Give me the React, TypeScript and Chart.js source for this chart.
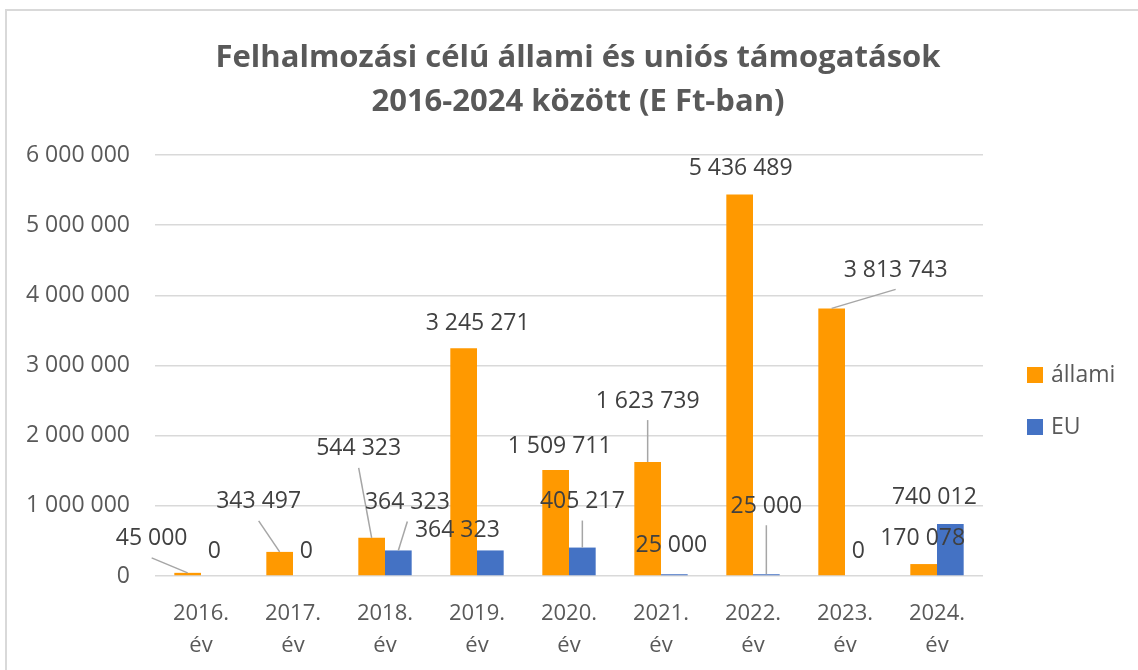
import React, { useEffect, useRef } from "react";
import { Chart, registerables } from "chart.js";

Chart.register(...registerables);

const titleLines = ["Felhalmozási célú állami és uniós támogatások", "2016-2024 között (E Ft-ban)"];
const categories = [
  ["2016.", "év"],
  ["2017.", "év"],
  ["2018.", "év"],
  ["2019.", "év"],
  ["2020.", "év"],
  ["2021.", "év"],
  ["2022.", "év"],
  ["2023.", "év"],
  ["2024.", "év"],
];
const seriesNames = ["állami", "EU"];
const allamiValues = [45000, 343497, 544323, 3245271, 1509711, 1623739, 5436489, 3813743, 170078];
const euValues = [0, 0, 364323, 364323, 405217, 25000, 25000, 0, 740012];
const yMin = 0;
const yMax = 6000000;
const yStep = 1000000;

// label placement (dx, dy from bar top centre, leader line?)
const allamiLabelOffsets: [number, number, boolean][] = [
  [-36, -34, true],
  [-21, -50, true],
  [-13, -89, true],
  [14, -25, false],
  [4, -24, false],
  [0, -61, true],
  [1, -26, false],
  [64, -38, true],
  [-1, -26, false],
];
const euLabelOffsets: [number, number, boolean][] = [
  [0, -25, false],
  [0, -25, false],
  [9, -48, true],
  [-33, -20, false],
  [0, -46, true],
  [-3, -29, false],
  [0, -68, true],
  [0, -25, false],
  [-16, -27, false],
];

const ORANGE = "#FF9900";
const BLUE = "#4472C4";
const TEXT = "#595959";
const LABEL = "#404040";
const GRID = "#d9d9d9";
const FONT = "'Open Sans', sans-serif";
const FS = 23;

const fmt = (v: number) => String(Math.round(v)).replace(/\B(?=(\d{3})+(?!\d))/g, " ");

const decorPlugin = {
  id: "decor",
  afterDraw(chart: any) {
    const ctx = chart.ctx;
    const area = chart.chartArea;
    ctx.save();
    // title
    ctx.fillStyle = TEXT;
    ctx.font = `bold 31px ${FONT}`;
    ctx.textAlign = "center";
    ctx.textBaseline = "middle";
    titleLines.forEach((t, i) => ctx.fillText(t, chart.width / 2 + 9, 58 + i * 44));

    // data labels
    const offsets = [allamiLabelOffsets, euLabelOffsets];
    chart.data.datasets.forEach((ds: any, di: number) => {
      const meta = chart.getDatasetMeta(di);
      meta.data.forEach((bar: any, i: number) => {
        const [dx, dy, leader] = offsets[di][i];
        const lx = bar.x + dx;
        const ly = bar.y + dy;
        if (leader) {
          ctx.strokeStyle = "#a6a6a6";
          ctx.lineWidth = 1.5;
          ctx.beginPath();
          ctx.moveTo(lx, ly + 19);
          ctx.lineTo(bar.x, bar.y);
          ctx.stroke();
        }
        ctx.fillStyle = LABEL;
        ctx.font = `${FS}px ${FONT}`;
        ctx.textAlign = "center";
        ctx.textBaseline = "middle";
        ctx.fillText(fmt(ds.data[i]), lx, ly);
      });
    });

    // legend
    chart.data.datasets.forEach((ds: any, di: number) => {
      const sx = area.right + 44;
      const cy = area.top + 220 + di * 52;
      ctx.fillStyle = ds.backgroundColor;
      ctx.fillRect(sx, cy - 8, 16, 16);
      ctx.fillStyle = TEXT;
      ctx.font = `${FS}px ${FONT}`;
      ctx.textAlign = "left";
      ctx.textBaseline = "middle";
      ctx.fillText(ds.label, sx + 24, cy);
    });
    ctx.restore();
  },
};

export default function App() {
  const ref = useRef<HTMLCanvasElement | null>(null);
  useEffect(() => {
    if (!ref.current) return;
    const chart = new Chart(ref.current, {
      type: "bar",
      data: {
        labels: categories,
        datasets: [
          { label: seriesNames[0], data: allamiValues, backgroundColor: ORANGE, categoryPercentage: 0.58, barPercentage: 1.0 },
          { label: seriesNames[1], data: euValues, backgroundColor: BLUE, categoryPercentage: 0.58, barPercentage: 1.0 },
        ],
      },
      options: {
        responsive: false,
        animation: false,
        layout: { padding: { top: 155, right: 155, bottom: 9, left: 0 } },
        plugins: {
          legend: { display: false },
          title: { display: false },
          tooltip: { enabled: false },
        },
        scales: {
          x: {
            grid: { display: false },
            border: { display: false },
            ticks: {
              color: TEXT,
              font: { family: FONT, size: 22, lineHeight: 1.45 },
              padding: 14,
              maxRotation: 0,
              autoSkip: false,
            },
            afterFit: (s: any) => {
              s.height = 85;
            },
          },
          y: {
            min: yMin,
            max: yMax,
            border: { display: false },
            grid: { color: GRID, lineWidth: 1.5, drawTicks: false },
            ticks: {
              stepSize: yStep,
              color: TEXT,
              font: { family: FONT, size: FS },
              padding: 25,
              callback: (v: any) => fmt(Number(v)),
            },
            afterFit: (s: any) => {
              s.width = 155;
            },
          },
        },
      },
      plugins: [decorPlugin],
    });
    return () => chart.destroy();
  }, []);

  return (
    <div style={{ position: "absolute", left: 0, top: 0, width: 1138, height: 670, background: "#fff" }}>
      <div
        style={{
          position: "absolute",
          left: 5,
          top: 9,
          width: 1133,
          height: 661,
          borderTop: `2px solid ${GRID}`,
          borderLeft: `2px solid ${GRID}`,
          boxSizing: "border-box",
        }}
      />
      <canvas ref={ref} width={1138} height={670} style={{ position: "absolute", left: 0, top: 0 }} />
    </div>
  );
}
